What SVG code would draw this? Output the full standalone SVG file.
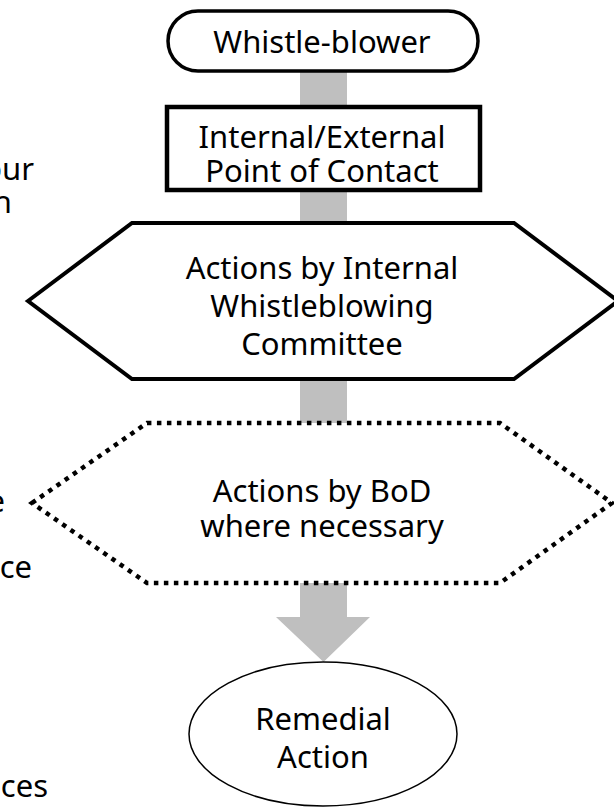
<svg xmlns="http://www.w3.org/2000/svg" width="614" height="809" viewBox="0 0 614 809">
<style>
text{font-family:"Noto Sans","Open Sans","DejaVu Sans",sans-serif;font-size:31px;fill:#000;text-anchor:middle}
.frag{text-anchor:end}
.bar{fill:#BFBFBF}
.solid{fill:#fff;stroke:#000;stroke-linejoin:miter}
.dot{fill:#fff;stroke:#000;stroke-width:4.5;stroke-dasharray:4.5 5.5}
</style>
<rect width="614" height="809" fill="#fff"/>
<g id="left-fragments">
<text class="frag" x="34" y="180">our</text>
<text class="frag" x="12" y="213">h</text>
<text class="frag" x="5" y="512">e</text>
<text class="frag" x="32" y="578">ce</text>
<text class="frag" x="48" y="797">ices</text>
</g>
<g id="connectors">
<rect class="bar" x="300" y="71" width="47" height="37"/>
<rect class="bar" x="300" y="189" width="47" height="35"/>
<rect class="bar" x="300" y="378" width="47" height="46"/>
<path class="bar" d="M300,583 H347 V617 H370 L323.5,662 L276,617 H300 Z"/>
</g>
<g id="whistleblower">
<rect class="solid" x="168" y="11" width="310" height="60" rx="30" ry="30" stroke-width="3.5"/>
<text x="322" y="53">Whistle-blower</text>
</g>
<g id="point-of-contact">
<rect class="solid" x="167" y="107" width="313" height="83" stroke-width="4.5"/>
<text x="322" y="148">Internal/External</text>
<text x="322" y="182">Point of Contact</text>
</g>
<g id="committee">
<polygon class="solid" stroke-width="4" points="28,301 132,223 514,223 618,301 514,379 132,379"/>
<text x="322" y="279">Actions by Internal</text>
<text x="322" y="317">Whistleblowing</text>
<text x="322" y="355">Committee</text>
</g>
<g id="bod">
<polygon class="dot" points="32,503 147,423 500,423 612,503 500,583 147,583"/>
<text x="322" y="502">Actions by BoD</text>
<text x="322" y="537">where necessary</text>
</g>
<g id="remedial">
<ellipse class="solid" cx="323" cy="734" rx="134" ry="72" stroke-width="1.5"/>
<text x="323" y="730">Remedial</text>
<text x="323" y="768">Action</text>
</g>
</svg>
